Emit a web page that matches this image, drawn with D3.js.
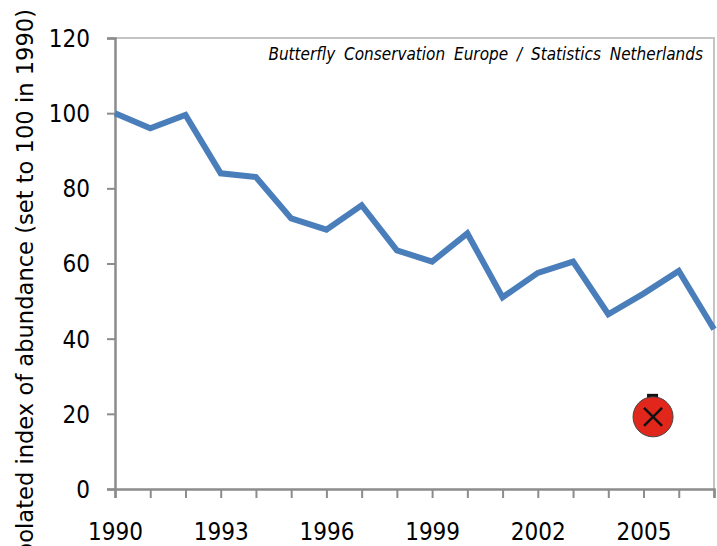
<!DOCTYPE html>
<html>
<head>
<meta charset="utf-8">
<script src="https://cdn.jsdelivr.net/npm/d3@7"></script>
<style>
  html, body { margin: 0; padding: 0; background: #fff; overflow: hidden; }
  text { font-family: "DejaVu Sans Condensed", "DejaVu Sans", sans-serif; font-stretch: condensed; fill: #000; }
</style>
</head>
<body>
<div id="chart"></div>
<script>
let years = [1990,1991,1992,1993,1994,1995,1996,1997,1998,1999,2000,2001,2002,2003,2004,2005,2006,2007];
let index = [100,96,99.5,84,83,72,69,75.5,63.5,60.5,68,51,57.5,60.5,46.5,52,58,42.5];
let yTicks = [0,20,40,60,80,100,120];
let xLabels = [1990,1993,1996,1999,2002,2005];
let markerYear = [2005.27];
let markerValue = [19.2];

let width = 717, height = 546;
let margin = {top: 38, left: 115, bottom: 57, right: 3};

let svg = d3.select("#chart").append("svg")
  .attr("width", width)
  .attr("height", height)
  .style("display", "block");

let x = d3.scaleLinear().domain([1990, 2007]).range([margin.left, width - margin.right]);
let y = d3.scaleLinear().domain([0, 120]).range([height - margin.bottom, margin.top]);

// frame top and right
svg.append("path")
  .attr("d", "M" + x(1990) + "," + y(120) + "H" + x(2007) + "V" + y(0))
  .attr("fill", "none")
  .attr("stroke", "#c4c4c4")
  .attr("stroke-width", 2);

// y axis
let yAxis = svg.append("g")
  .attr("transform", "translate(" + x(1990) + ",0)")
  .call(d3.axisLeft(y).tickValues(yTicks).tickSize(8).tickPadding(17));
yAxis.selectAll("text").style("font-size", "24px").attr("dy", "0.35em");

// x axis
let xAxis = svg.append("g")
  .attr("transform", "translate(0," + y(0) + ")")
  .call(d3.axisBottom(x).tickValues(years).tickSize(9).tickPadding(25)
    .tickFormat(function(d){ return xLabels.indexOf(d) >= 0 ? d : ""; }));
xAxis.selectAll("text").style("font-size", "24px");

svg.selectAll(".domain")
  .attr("stroke", "#8c8c8c")
  .attr("stroke-width", 2.5);
svg.selectAll(".tick line")
  .attr("stroke", "#8c8c8c")
  .attr("stroke-width", 2);

// line
let line = d3.line()
  .x(function(d, i){ return x(years[i]); })
  .y(function(d){ return y(d); });

svg.append("path")
  .datum(index)
  .attr("d", line)
  .attr("fill", "none")
  .attr("stroke", "#4a7ebb")
  .attr("stroke-width", 6)
  .attr("stroke-linejoin", "miter");

// y label, runs off the bottom of the picture
svg.append("text")
  .attr("transform", "translate(33,9) rotate(-90)")
  .attr("text-anchor", "end")
  .style("font-size", "22.6px")
  .style("font-family", "'DejaVu Sans', sans-serif")
  .style("font-stretch", "normal")
  .text("Interpolated index of abundance (set to 100 in 1990)");

// source
svg.append("text")
  .attr("x", 703)
  .attr("y", 60)
  .attr("text-anchor", "end")
  .style("font-size", "17px")
  .style("font-style", "italic")
  .attr("word-spacing", "4")
  .text("Butterfly Conservation Europe / Statistics Netherlands");

// red marker
let mx = x(markerYear[0]), my = y(markerValue[0]);
let marker = svg.append("g").attr("transform", "translate(" + mx + "," + my + ")");
marker.append("rect").attr("x", -6).attr("y", -23).attr("width", 11).attr("height", 6).attr("fill", "#111");
marker.append("circle").attr("r", 20).attr("fill", "#e1261c").attr("stroke", "#444").attr("stroke-width", 1);
marker.append("path")
  .attr("d", "M-9,-9L9,9M9,-9L-9,9")
  .attr("stroke", "#111")
  .attr("stroke-width", 2.5);
</script>
</body>
</html>
